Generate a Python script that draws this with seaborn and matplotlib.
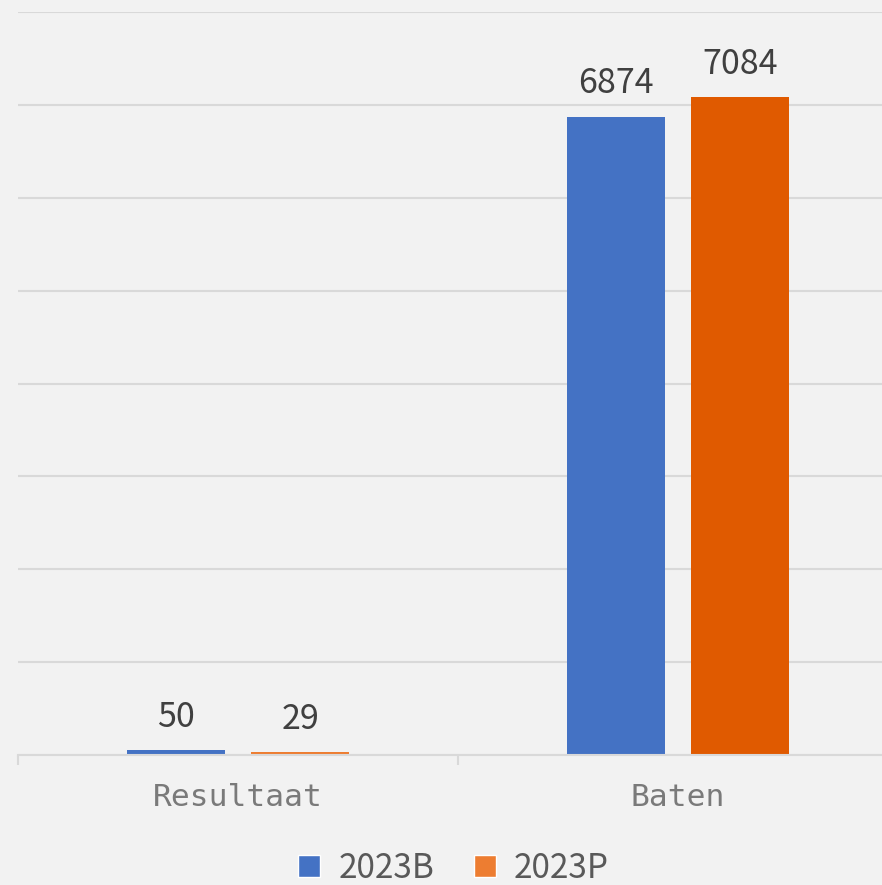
import pandas as pd
import matplotlib.pyplot as plt
import seaborn as sns
from matplotlib.patches import Patch

# data
categories = ["Resultaat", "Baten"]
series = ["2023B", "2023P"]
values_2023B = [50, 6874]
values_2023P = [29, 7084]

BLUE = "#4472C4"
ORANGE = "#ED7D31"
ORANGE_DARK = "#E05A00"
BG = "#F2F2F2"
GRID = "#D9D9D9"

df = pd.DataFrame({
    "category": categories * 2,
    "series": [series[0]] * 2 + [series[1]] * 2,
    "value": values_2023B + values_2023P,
})

sns.set_theme(style="white")
plt.rcParams["font.family"] = ["Noto Sans CJK SC", "DejaVu Sans"]

fig = plt.figure(figsize=(8.82, 8.85), dpi=100, facecolor=BG)
ax = fig.add_axes([18 / 882, 1 - 755 / 885, 880 / 882, (755 - 12) / 885])
ax.set_facecolor(BG)

sns.barplot(data=df, x="category", y="value", hue="series",
            order=categories, hue_order=series,
            palette=[BLUE, ORANGE], width=0.568, gap=0.216,
            saturation=1, linewidth=0, legend=False, ax=ax)

# highlighted bar
ax.containers[1][1].set_facecolor(ORANGE_DARK)

for cont in ax.containers:
    ax.bar_label(cont, fmt="%d", padding=11, fontsize=24.5, color="#404040")

ax.set_xlim(-0.5, 1.5)
ax.set_ylim(0, 8000)
ax.set_yticks(range(0, 8001, 1000))
ax.yaxis.grid(True, color=GRID, linewidth=1.5)
ax.set_axisbelow(True)
ax.tick_params(axis="y", left=False, labelleft=False)
ax.set_xlabel("")
ax.set_ylabel("")

for s in ["left", "right", "top"]:
    ax.spines[s].set_visible(False)
ax.spines["bottom"].set_color(GRID)
ax.spines["bottom"].set_linewidth(1.5)

ax.set_xticks([-0.5, 0.5, 1.5], minor=True)
ax.tick_params(axis="x", which="minor", length=7, width=1.5, color=GRID, bottom=True)
ax.tick_params(axis="x", which="major", length=0, pad=20)
for lbl in ax.get_xticklabels():
    lbl.set_fontfamily("DejaVu Sans Mono")
    lbl.set_fontsize(22.5)
    lbl.set_color("#7a7a7a")

handles = [Patch(facecolor=BLUE, label=series[0]),
           Patch(facecolor=ORANGE, label=series[1])]
fig.legend(handles=handles, loc="lower center", bbox_to_anchor=(0.5143, -0.035),
           ncol=2, frameon=False, fontsize=24, labelcolor="#595959",
           handlelength=0.65, handleheight=0.65, handletextpad=0.55,
           columnspacing=1.2)

fig.savefig("out.png", dpi=100, facecolor=BG)
